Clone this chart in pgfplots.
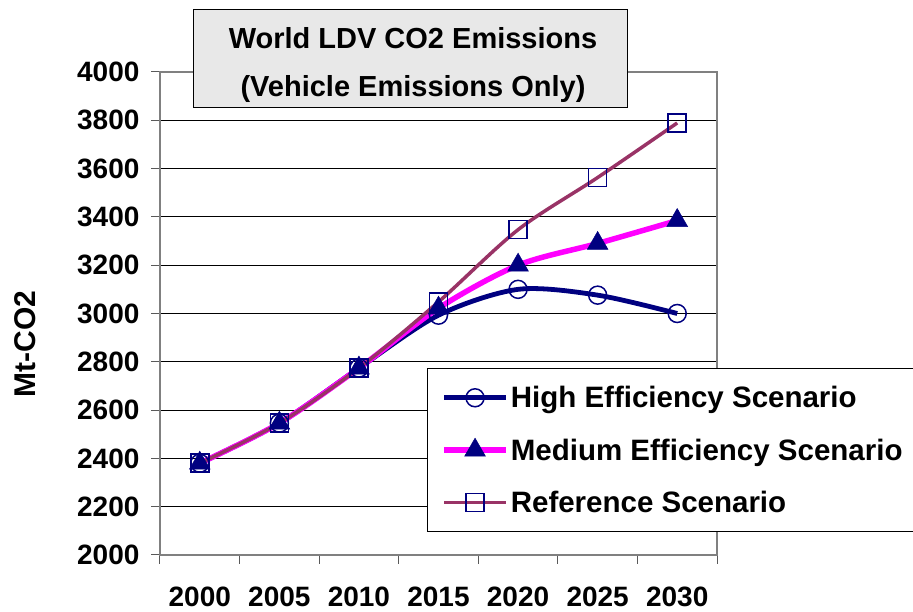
\documentclass[border=0pt]{standalone}
\usepackage{fontspec}
\setmainfont{Liberation Sans}
\usepackage{pgfplots}
\pgfplotsset{compat=1.18}
\definecolor{hinavy}{RGB}{0,0,128}
\definecolor{medmag}{RGB}{255,0,255}
\definecolor{refplum}{RGB}{153,51,102}
\definecolor{boxgray}{RGB}{232,232,232}
\begin{document}
\begin{tikzpicture}
\useasboundingbox (0,0) rectangle (913pt,612pt);
\begin{axis}[
  at={(160pt,57pt)}, anchor=south west,
  scale only axis, width=557pt, height=483pt,
  xmin=1997.5, xmax=2032.5, ymin=2000, ymax=4000,
  xtick={1997.5,2002.5,2007.5,2012.5,2017.5,2022.5,2027.5,2032.5},
  x tick label as interval,
  xticklabels={2000,2005,2010,2015,2020,2025,2030},
  ytick={2000,2200,...,4000},
  tick pos=left, tick align=outside, major tick length=9pt,
  every tick/.style={gray!70!black, line width=1pt},
  ymajorgrids, grid style={black, line width=0.9pt},
  axis line style={gray, line width=1.3pt},
  tick label style={font=\fontsize{28}{34}\selectfont\bfseries},
  yticklabel style={xshift=-8pt},
  xticklabel style={yshift=-19pt},
  /pgf/number format/assume math mode=true,
  /pgf/number format/1000 sep={},
  ylabel={Mt-CO2},
  ylabel style={font=\fontsize{30}{34}\selectfont\bfseries, at={(axis description cs:-0.242,0.437)}, anchor=center},
  legend image code/.code={%
    \draw[mark repeat=2,mark phase=2,#1] plot coordinates {(0pt,0pt) (31pt,0pt) (62pt,0pt)};
    \path[draw=none,fill=none] (0pt,-26.2pt) -- (0pt,26.2pt);},
  legend style={at={(0.479,0.387)}, anchor=north west, draw=black, line width=1pt, fill=white,
    font=\fontsize{29.5}{35}\selectfont\bfseries, inner xsep=14pt, inner ysep=3pt},
  legend cell align=left,
]
\addplot[hinavy, line width=4.8pt, smooth, tension=0.5, mark=o, mark size=9pt,
  mark options={line width=1.5pt, solid, fill=none}]
  coordinates {(2000,2380) (2005,2546) (2010,2774) (2015,2993) (2020,3100) (2025,3076) (2030,3000)};
\addlegendentry{High Efficiency Scenario}
\addplot[medmag, line width=5.5pt, smooth, tension=0.5, mark=triangle*, mark size=12pt,
  mark options={hinavy, fill=hinavy, line width=0.5pt}]
  coordinates {(2000,2380) (2005,2546) (2010,2774) (2015,3022) (2020,3200) (2025,3290) (2030,3385)};
\addlegendentry{Medium Efficiency Scenario}
\addplot[refplum, line width=3.5pt, smooth, tension=0.5, mark=square, mark size=9pt,
  mark options={hinavy, line width=1.5pt}]
  coordinates {(2000,2380) (2005,2546) (2010,2774) (2015,3048) (2020,3347) (2025,3563) (2030,3789)};
\addlegendentry{Reference Scenario}
\end{axis}
\node[draw=black, line width=1pt, fill=boxgray, minimum width=434pt, minimum height=98pt] at (410pt,553pt) {};
\node[align=center, font=\fontsize{29}{48}\selectfont\bfseries] at (413pt,547pt)
  {World LDV CO2 Emissions\\(Vehicle Emissions Only)};
\end{tikzpicture}
\end{document}
